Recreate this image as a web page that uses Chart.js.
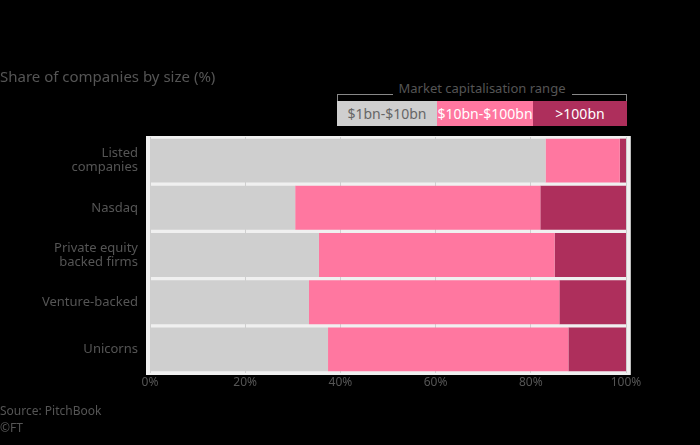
<!DOCTYPE html>
<html><head><meta charset="utf-8">
<script src="https://cdn.jsdelivr.net/npm/chart.js@4/dist/chart.umd.min.js"></script>
<style>
html,body{margin:0;padding:0;background:#000;}
#wrap{position:relative;width:700px;height:445px;font-family:"Noto Sans",sans-serif;}
canvas{position:absolute;left:0;top:0;}
.t{position:absolute;color:#555;white-space:nowrap;}
#title{left:0;top:66px;font-size:15px;}
#legtitle{left:337px;width:290px;top:79px;text-align:center;font-size:13px;}
#legtitle span{background:#000;padding:0 6px;position:relative;z-index:2;}
#bracket{position:absolute;left:337px;top:94px;width:288px;height:6px;border:1px solid #888;border-bottom:none;}
.lg{position:absolute;top:101px;height:25px;line-height:25px;text-align:center;font-size:14px;}
#src{left:0;top:402px;font-size:12px;line-height:17px;}
</style></head>
<body><div id="wrap">
<canvas id="c" width="700" height="445"></canvas>
<div class="t" id="title">Share of companies by size (%)</div>
<div id="bracket"></div>
<div class="t" id="legtitle"><span>Market capitalisation range</span></div>
<div id="legend"></div>
<div class="t" id="src">Source: PitchBook<br>©FT</div>
</div>
<script>
const categories = [["Listed","companies"],"Nasdaq",["Private equity","backed firms"],"Venture-backed","Unicorns"];
const seriesNames = ["$1bn-$10bn","$10bn-$100bn",">100bn"];
const small = [83.1, 30.5, 35.5, 33.4, 37.4];
const mid = [15.6, 51.5, 49.5, 52.6, 50.5];
const large = [1.3, 18.0, 15.0, 14.0, 12.1];
const xTicks = [0,20,40,60,80,100];
const colors = ["#cfcfcf","#ff77a0","#ae2f5c"];
const textColors = ["#666","#fff","#fff"];

const legendBoxes = [[337,100],[437,96],[533,94]];
const lg = document.getElementById('legend');
seriesNames.forEach((n,i)=>{
  const d=document.createElement('div');
  d.className='lg';
  d.style.left=legendBoxes[i][0]+'px';
  d.style.width=legendBoxes[i][1]+'px';
  d.style.background=colors[i];
  d.style.color=textColors[i];
  d.textContent=n;
  lg.appendChild(d);
});

const bgPlugin = {
  id:'bg',
  beforeDraw(chart){
    const {ctx, chartArea:a} = chart;
    ctx.save();
    ctx.fillStyle='#f0f0f0';
    ctx.fillRect(a.left-4, a.top-1, a.right-a.left+8, a.bottom-a.top+3);
    ctx.strokeStyle='#bdbdbd';
    ctx.lineWidth=1;
    ctx.beginPath();
    ctx.moveTo(a.right+4.5, a.top-1); ctx.lineTo(a.right+4.5, a.bottom+2);
    ctx.stroke();
    ctx.restore();
  }
};

new Chart(document.getElementById('c'), {
  type:'bar',
  data:{
    labels:categories,
    datasets:[
      {label:seriesNames[0], data:small, backgroundColor:colors[0]},
      {label:seriesNames[1], data:mid, backgroundColor:colors[1]},
      {label:seriesNames[2], data:large, backgroundColor:colors[2]}
    ]
  },
  options:{
    indexAxis:'y',
    responsive:false,
    animation:false,
    layout:{padding:{left:0,right:74,top:137,bottom:50}},
    plugins:{legend:{display:false},tooltip:{enabled:false}},
    datasets:{bar:{barPercentage:0.93,categoryPercentage:1}},
    scales:{
      x:{
        stacked:true,min:0,max:100,
        afterBuildTicks(s){ s.ticks = xTicks.map(v=>({value:v})); },
        ticks:{callback:v=>v+'%',color:'#555',font:{family:'Noto Sans',size:12},padding:2,maxRotation:0},
        grid:{color:'#cfcfcf',drawTicks:false},
        border:{display:false},
        afterFit(s){ s.height = 22; }
      },
      y:{
        stacked:true,
        ticks:{color:'#555',font:{family:'Noto Sans',size:13,lineHeight:1.1},padding:12},
        grid:{display:false,drawTicks:false},
        border:{display:false},
        afterFit(s){ s.width = 150; }
      }
    }
  },
  plugins:[bgPlugin]
});
</script>
</body></html>
